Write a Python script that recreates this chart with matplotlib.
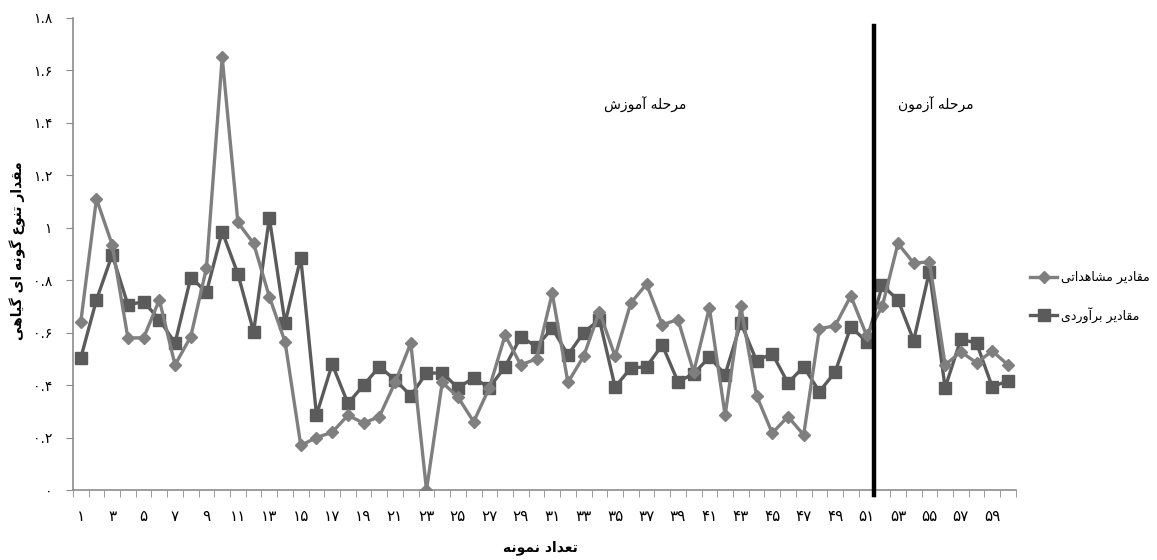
import matplotlib
matplotlib.use("Agg")
import matplotlib.pyplot as plt
from matplotlib.ticker import FixedLocator

# ---------------- data ----------------
samples = list(range(1, 61))
observed = [0.64, 1.11, 0.935, 0.58, 0.58, 0.725, 0.477, 0.585, 0.847, 1.65,
            1.02, 0.94, 0.737, 0.565, 0.17, 0.20, 0.22, 0.285, 0.255, 0.28,
            0.41, 0.56, 0.0, 0.41, 0.355, 0.26, 0.39, 0.59, 0.477, 0.50,
            0.75, 0.41, 0.51, 0.68, 0.51, 0.713, 0.785, 0.63, 0.65, 0.45,
            0.695, 0.285, 0.70, 0.36, 0.217, 0.28, 0.21, 0.615, 0.626, 0.74,
            0.59, 0.70, 0.94, 0.865, 0.87, 0.477, 0.527, 0.485, 0.53, 0.477]
estimated = [0.503, 0.725, 0.897, 0.706, 0.718, 0.65, 0.56, 0.81, 0.755, 0.985,
             0.824, 0.603, 1.038, 0.637, 0.885, 0.286, 0.48, 0.33, 0.40, 0.47,
             0.42, 0.36, 0.446, 0.446, 0.39, 0.427, 0.39, 0.47, 0.584, 0.547,
             0.617, 0.515, 0.60, 0.65, 0.393, 0.465, 0.47, 0.553, 0.413, 0.443,
             0.507, 0.44, 0.637, 0.493, 0.52, 0.408, 0.47, 0.375, 0.45, 0.622,
             0.566, 0.78, 0.725, 0.57, 0.833, 0.39, 0.575, 0.56, 0.393, 0.417]
y_ticks = [0, 0.2, 0.4, 0.6, 0.8, 1.0, 1.2, 1.4, 1.6, 1.8]
x_label_ticks = list(range(1, 60, 2))
split_after = 51  # training / test boundary after sample 51

series_names = ["مقادیر مشاهداتی", "مقادیر برآوردی"]
train_label = "مرحله آموزش"
test_label = "مرحله آزمون"
x_title = "تعداد نمونه"
y_title = "مقدار تنوع گونه ای گیاهی"

# ---------------- simple Persian shaping ----------------
FORMS = {  # isolated, final, initial, medial
    'ا': ('\uFE8D', '\uFE8E', None, None),
    'آ': ('\uFE81', '\uFE82', None, None),
    'د': ('\uFEA9', '\uFEAA', None, None),
    'ر': ('\uFEAD', '\uFEAE', None, None),
    'ز': ('\uFEAF', '\uFEB0', None, None),
    'و': ('\uFEED', '\uFEEE', None, None),
    'ب': ('\uFE8F', '\uFE90', '\uFE91', '\uFE92'),
    'ت': ('\uFE95', '\uFE96', '\uFE97', '\uFE98'),
    'ح': ('\uFEA1', '\uFEA2', '\uFEA3', '\uFEA4'),
    'ش': ('\uFEB5', '\uFEB6', '\uFEB7', '\uFEB8'),
    'ع': ('\uFEC9', '\uFECA', '\uFECB', '\uFECC'),
    'ق': ('\uFED5', '\uFED6', '\uFED7', '\uFED8'),
    'ل': ('\uFEDD', '\uFEDE', '\uFEDF', '\uFEE0'),
    'م': ('\uFEE1', '\uFEE2', '\uFEE3', '\uFEE4'),
    'ن': ('\uFEE5', '\uFEE6', '\uFEE7', '\uFEE8'),
    'ه': ('\uFEE9', '\uFEEA', '\uFEEB', '\uFEEC'),
    'ی': ('\uFBFC', '\uFBFD', '\uFBFE', '\uFBFF'),
    'گ': ('\uFB92', '\uFB93', '\uFB94', '\uFB95'),
}


def dual(c):
    return c in FORMS and FORMS[c][2] is not None


def shape(text):
    out = []
    n = len(text)
    for i, c in enumerate(text):
        if c not in FORMS:
            out.append(c)
            continue
        prev = text[i - 1] if i > 0 else ''
        nxt = text[i + 1] if i + 1 < n else ''
        join_prev = dual(prev)
        join_next = dual(c) and nxt in FORMS
        iso, fin, ini, med = FORMS[c]
        if join_prev and join_next:
            out.append(med)
        elif join_prev:
            out.append(fin)
        elif join_next:
            out.append(ini)
        else:
            out.append(iso)
    return ''.join(reversed(out))


FA_DIGITS = str.maketrans('0123456789', '۰۱۲۳۴۵۶۷۸۹')


def fa_num(v):
    s = ('%g' % v)
    return s.translate(FA_DIGITS)


# ---------------- plot ----------------
plt.rcParams['font.family'] = ['DejaVu Sans']
fig = plt.figure(figsize=(11.57, 5.6), dpi=100)
ax = fig.add_axes([0.063, 0.125, 0.815, 0.843])

obs_color = '#7f7f7f'
est_color = '#5b5b5b'
l1, = ax.plot(samples, observed, color=obs_color, lw=2.4, marker='D',
              markersize=6.5, markerfacecolor=obs_color, markeredgecolor=obs_color,
              label=shape(series_names[0]), zorder=3)
l2, = ax.plot(samples, estimated, color=est_color, lw=2.4, marker='s',
              markersize=9, markerfacecolor=est_color, markeredgecolor=est_color,
              label=shape(series_names[1]), zorder=2)

ax.set_xlim(0.5, len(samples) + 0.5)
ax.set_ylim(0, 1.8)

for s in ['top', 'right']:
    ax.spines[s].set_visible(False)
for s in ['left', 'bottom']:
    ax.spines[s].set_color('#8c8c8c')
    ax.spines[s].set_linewidth(1.2)

ax.set_yticks(y_ticks)
ax.set_yticklabels([fa_num(v) for v in y_ticks], fontsize=10)
ax.tick_params(axis='y', length=5, color='#8c8c8c', pad=10)

ax.set_xticks(x_label_ticks)
ax.set_xticklabels([fa_num(v) for v in x_label_ticks], fontsize=11)
ax.xaxis.set_minor_locator(FixedLocator([i + 0.5 for i in range(0, len(samples) + 1)]))
ax.tick_params(axis='x', which='major', length=0, pad=14)
ax.tick_params(axis='x', which='minor', length=5, color='#8c8c8c')

# split line
ax.plot([split_after + 0.5, split_after + 0.5], [-0.02, 1.77], color='black',
        lw=3.2, clip_on=False, zorder=5)

ax.text(36.9, 1.47, shape(train_label), fontsize=10, ha='center', va='center')
ax.text(55.4, 1.47, shape(test_label), fontsize=10, ha='center', va='center')

fig.text(0.467, 0.022, shape(x_title), fontsize=10, fontweight='bold',
         ha='center', va='center')
fig.text(0.015, 0.552, shape(y_title), fontsize=10, fontweight='bold',
         ha='center', va='center', rotation=90)

leg = fig.legend(handles=[l1, l2], loc='center left',
                 bbox_to_anchor=(0.889, 0.47), frameon=False, fontsize=9,
                 handlelength=2.2, labelspacing=1.8, handletextpad=0.3,
                 borderpad=0.1, borderaxespad=0.0)

fig.savefig('out.png', dpi=100)
